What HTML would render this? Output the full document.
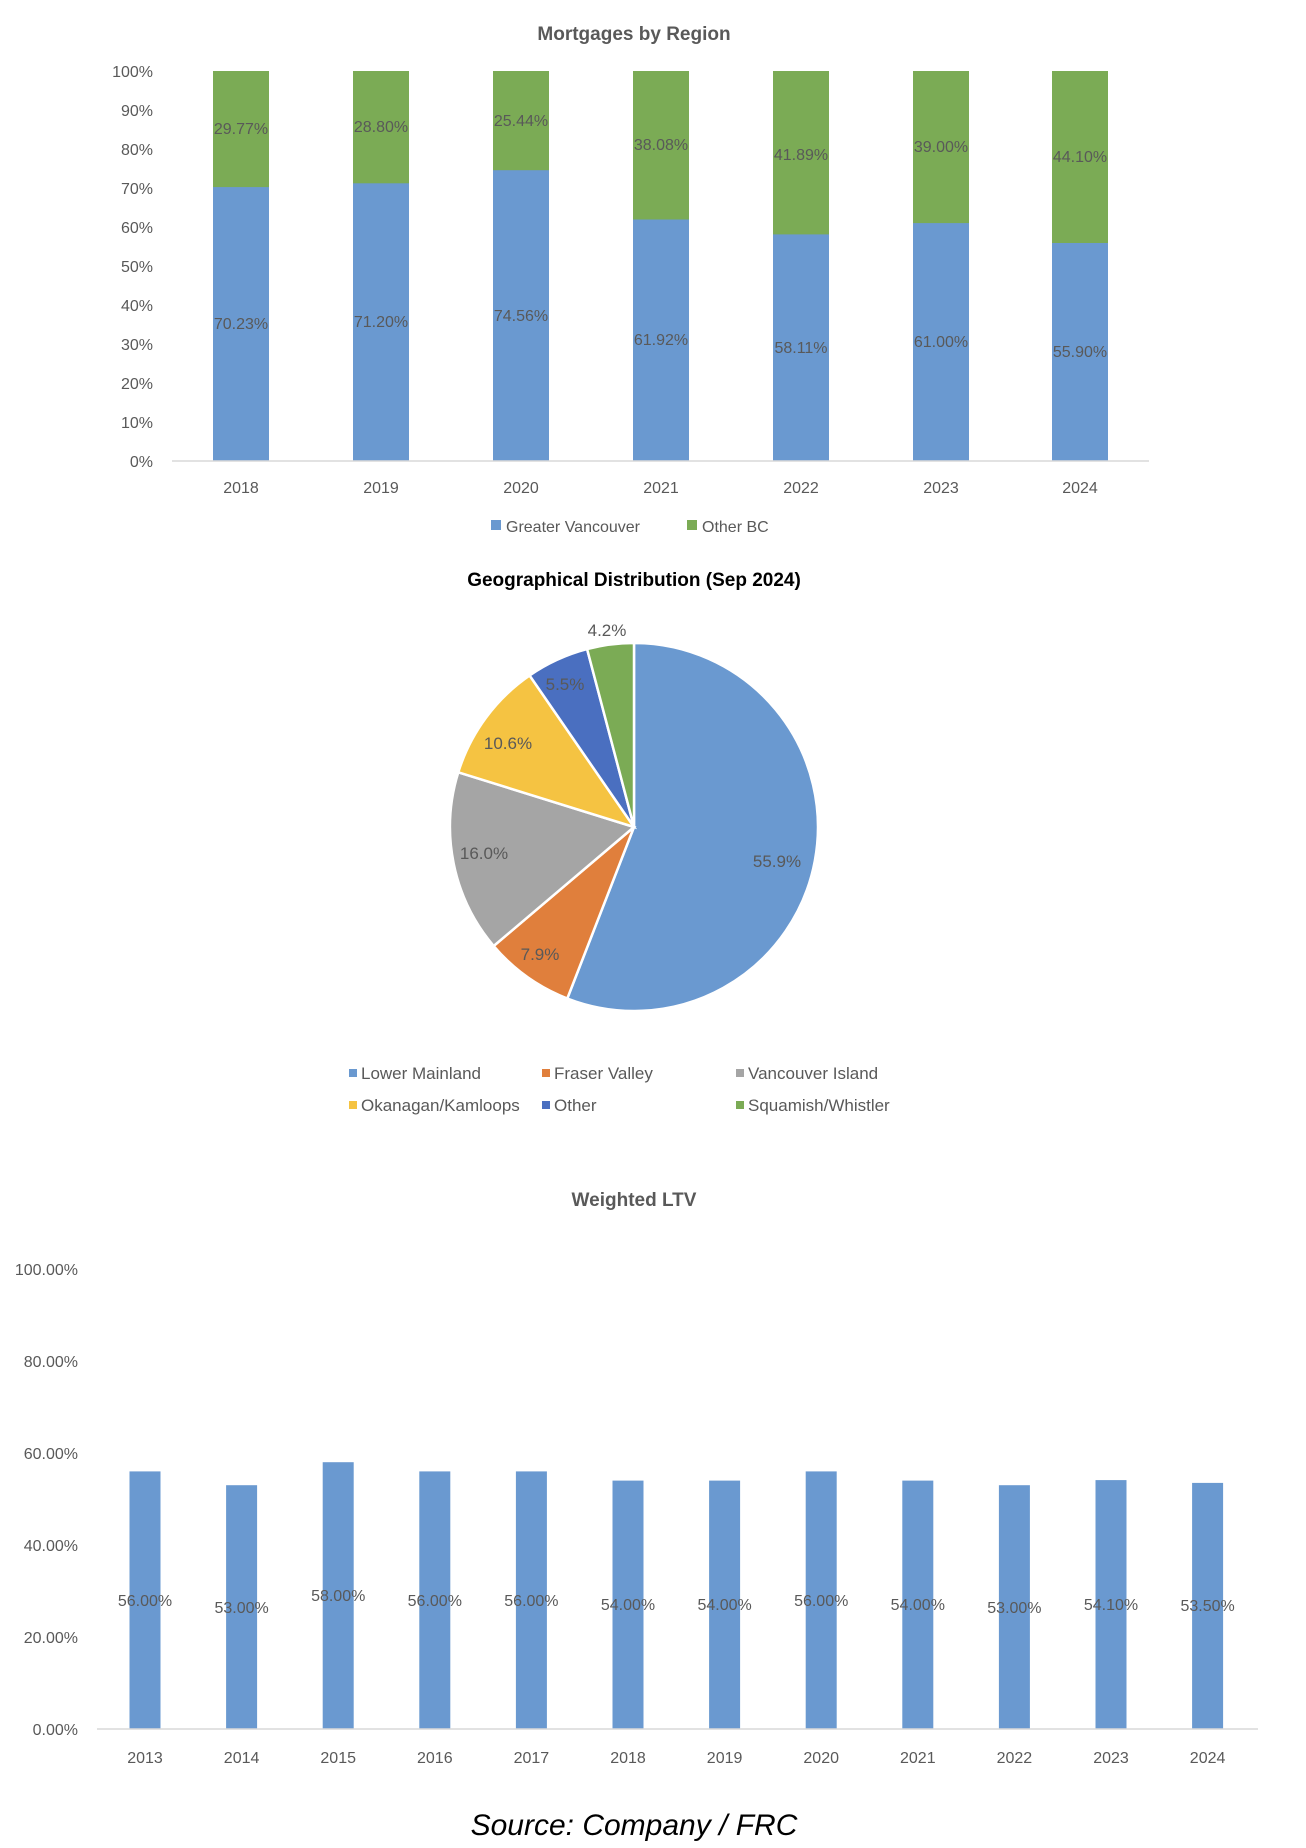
<!DOCTYPE html>
<html><head><meta charset="utf-8"><style>
html,body{margin:0;padding:0;background:#fff}
svg{display:block}
text{font-family:"Liberation Sans",sans-serif;fill:#595959}
</style></head><body>
<svg width="1306" height="1848" viewBox="0 0 1306 1848" xmlns="http://www.w3.org/2000/svg">
<!-- Chart 1 -->
<text x="634" y="40" text-anchor="middle" font-size="19" font-weight="bold">Mortgages by Region</text>
<g font-size="16" text-anchor="end">
<text x="153" y="77">100%</text><text x="153" y="116">90%</text><text x="153" y="155">80%</text><text x="153" y="194">70%</text><text x="153" y="233">60%</text><text x="153" y="272">50%</text><text x="153" y="311">40%</text><text x="153" y="350">30%</text><text x="153" y="389">20%</text><text x="153" y="428">10%</text><text x="153" y="467">0%</text>
</g>
<g fill="#7bab55">
<rect x="213" y="71" width="56" height="390"/><rect x="353" y="71" width="56" height="390"/><rect x="493" y="71" width="56" height="390"/><rect x="633" y="71" width="56" height="390"/><rect x="773" y="71" width="56" height="390"/><rect x="913" y="71" width="56" height="390"/><rect x="1052" y="71" width="56" height="390"/>
</g>
<g fill="#6a99d0">
<rect x="213" y="187.1" width="56" height="273.9"/><rect x="353" y="183.3" width="56" height="277.7"/><rect x="493" y="170.2" width="56" height="290.8"/><rect x="633" y="219.5" width="56" height="241.5"/><rect x="773" y="234.4" width="56" height="226.6"/><rect x="913" y="223.1" width="56" height="237.9"/><rect x="1052" y="243" width="56" height="218"/>
</g>
<line x1="172" y1="461" x2="1149" y2="461" stroke="#d9d9d9" stroke-width="1.5"/>
<g font-size="16" text-anchor="middle" style="fill:#404040">
<text x="241" y="134">29.77%</text><text x="381" y="132">28.80%</text><text x="521" y="126">25.44%</text><text x="661" y="150">38.08%</text><text x="801" y="160">41.89%</text><text x="941" y="152">39.00%</text><text x="1080" y="162">44.10%</text>
<text x="241" y="329">70.23%</text><text x="381" y="327">71.20%</text><text x="521" y="321">74.56%</text><text x="661" y="345">61.92%</text><text x="801" y="353">58.11%</text><text x="941" y="347">61.00%</text><text x="1080" y="357">55.90%</text>
</g>
<g font-size="16" text-anchor="middle">
<text x="241" y="493">2018</text><text x="381" y="493">2019</text><text x="521" y="493">2020</text><text x="661" y="493">2021</text><text x="801" y="493">2022</text><text x="941" y="493">2023</text><text x="1080" y="493">2024</text>
</g>
<rect x="491" y="520" width="10" height="10" fill="#6a99d0"/><text x="506" y="532" font-size="16">Greater Vancouver</text>
<rect x="687" y="520" width="10" height="10" fill="#7bab55"/><text x="702" y="532" font-size="16">Other BC</text>

<!-- Chart 2 pie -->
<text x="634" y="586" text-anchor="middle" font-size="19" font-weight="bold" style="fill:#000">Geographical Distribution (Sep 2024)</text>
<g stroke="#fff" stroke-width="2.5">
<path d="M634,827 L634,643 A184,184 0 1,1 567.3,998.5 Z" fill="#6a99d0"/>
<path d="M634,827 L567.3,998.5 A184,184 0 0,1 493.7,946 Z" fill="#e07f3c"/>
<path d="M634,827 L493.7,946 A184,184 0 0,1 458.3,772.3 Z" fill="#a5a5a5"/>
<path d="M634,827 L458.3,772.3 A184,184 0 0,1 529.6,675.5 Z" fill="#f5c342"/>
<path d="M634,827 L529.6,675.5 A184,184 0 0,1 587.1,649.1 Z" fill="#4a6fc0"/>
<path d="M634,827 L587.1,649.1 A184,184 0 0,1 634,643 Z" fill="#7bab55"/>
</g>
<g font-size="17" text-anchor="middle" style="fill:#404040">
<text x="777" y="867">55.9%</text><text x="540" y="960">7.9%</text><text x="484" y="859">16.0%</text><text x="508" y="749">10.6%</text><text x="565" y="690">5.5%</text><text x="607" y="636">4.2%</text>
</g>
<g font-size="17">
<rect x="349" y="1069" width="8" height="8" fill="#6a99d0"/><text x="361" y="1079">Lower Mainland</text>
<rect x="542" y="1069" width="8" height="8" fill="#e07f3c"/><text x="554" y="1079">Fraser Valley</text>
<rect x="736" y="1069" width="8" height="8" fill="#a5a5a5"/><text x="748" y="1079">Vancouver Island</text>
<rect x="349" y="1101" width="8" height="8" fill="#f5c342"/><text x="361" y="1111">Okanagan/Kamloops</text>
<rect x="542" y="1101" width="8" height="8" fill="#4a6fc0"/><text x="554" y="1111">Other</text>
<rect x="736" y="1101" width="8" height="8" fill="#7bab55"/><text x="748" y="1111">Squamish/Whistler</text>
</g>

<!-- Chart 3 -->
<text x="634" y="1206" text-anchor="middle" font-size="19" font-weight="bold">Weighted LTV</text>
<g font-size="16" text-anchor="end">
<text x="78" y="1275">100.00%</text><text x="78" y="1367">80.00%</text><text x="78" y="1459">60.00%</text><text x="78" y="1551">40.00%</text><text x="78" y="1643">20.00%</text><text x="78" y="1735">0.00%</text>
</g>
<g fill="#6a99d0">
<rect x="129.5" y="1471.4" width="31" height="257.6"/>
<rect x="226.1" y="1485.2" width="31" height="243.8"/>
<rect x="322.7" y="1462.2" width="31" height="266.8"/>
<rect x="419.3" y="1471.4" width="31" height="257.6"/>
<rect x="515.9" y="1471.4" width="31" height="257.6"/>
<rect x="612.5" y="1480.6" width="31" height="248.4"/>
<rect x="709.1" y="1480.6" width="31" height="248.4"/>
<rect x="805.7" y="1471.4" width="31" height="257.6"/>
<rect x="902.3" y="1480.6" width="31" height="248.4"/>
<rect x="998.9" y="1485.2" width="31" height="243.8"/>
<rect x="1095.5" y="1480.1" width="31" height="248.9"/>
<rect x="1192.1" y="1482.9" width="31" height="246.1"/>
</g>
<line x1="97" y1="1729" x2="1258" y2="1729" stroke="#d9d9d9" stroke-width="1.5"/>
<g font-size="16" text-anchor="middle" style="fill:#404040">
<text x="145" y="1606">56.00%</text><text x="241.6" y="1613">53.00%</text><text x="338.2" y="1601">58.00%</text><text x="434.8" y="1606">56.00%</text><text x="531.4" y="1606">56.00%</text><text x="628" y="1610">54.00%</text><text x="724.6" y="1610">54.00%</text><text x="821.2" y="1606">56.00%</text><text x="917.8" y="1610">54.00%</text><text x="1014.4" y="1613">53.00%</text><text x="1111" y="1610">54.10%</text><text x="1207.6" y="1611">53.50%</text>
</g>
<g font-size="16" text-anchor="middle">
<text x="145" y="1763">2013</text><text x="241.6" y="1763">2014</text><text x="338.2" y="1763">2015</text><text x="434.8" y="1763">2016</text><text x="531.4" y="1763">2017</text><text x="628" y="1763">2018</text><text x="724.6" y="1763">2019</text><text x="821.2" y="1763">2020</text><text x="917.8" y="1763">2021</text><text x="1014.4" y="1763">2022</text><text x="1111" y="1763">2023</text><text x="1207.6" y="1763">2024</text>
</g>
<text x="634" y="1835" text-anchor="middle" font-size="30" font-style="italic" style="fill:#000">Source: Company / FRC</text>
</svg>
</body></html>
